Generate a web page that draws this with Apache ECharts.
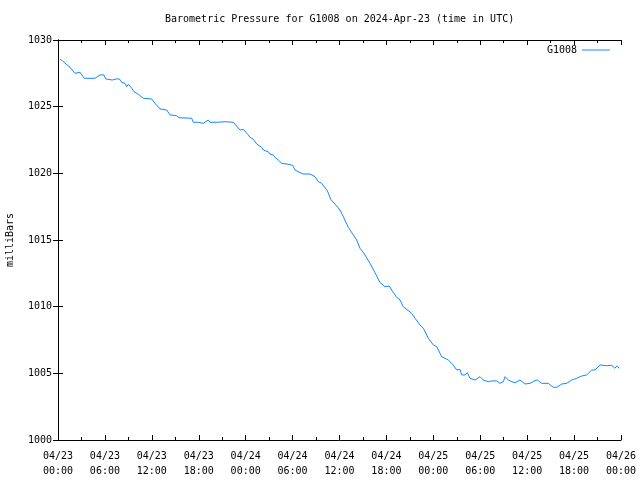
<!DOCTYPE html>
<html><head><meta charset="utf-8">
<script src="https://cdn.jsdelivr.net/npm/echarts@6/dist/echarts.min.js"></script>
<style>html,body{margin:0;padding:0;background:#fff}#c{width:640px;height:480px}</style>
</head><body><div id="c"></div>
<script>
// hours since 2024-04-23 00:00 UTC
const hours = [0.26,1.53,2.17,2.81,3.36,4.73,5.37,5.88,6.10,6.94,7.03,7.51,7.84,8.15,8.57,8.79,8.99,9.43,9.72,10.27,10.91,11.98,12.41,13.04,13.90,14.32,15.18,15.47,17.10,17.30,17.94,18.58,19.22,19.44,20.30,21.36,22.42,22.64,23.28,23.70,24.26,24.55,24.98,25.41,26.05,26.26,26.89,27.11,27.53,27.75,28.17,28.61,29.25,29.45,30.02,30.31,30.95,31.37,32.23,32.87,33.29,33.72,34.44,34.88,35.42,36.06,36.49,37.13,37.77,38.20,38.62,39.13,39.90,40.54,41.18,41.82,42.37,42.80,43.32,43.74,44.16,45.23,45.66,46.30,46.72,47.36,48.00,48.43,49.07,49.91,50.55,50.99,51.41,51.63,52.05,52.34,52.69,53.33,53.97,54.39,54.61,55.03,55.47,56.10,56.53,56.95,57.17,57.59,58.02,58.45,59.08,59.72,60.36,61.00,61.30,61.86,62.70,63.34,63.78,64.42,65.06,65.70,66.34,66.98,67.61,68.25,68.68,69.32,70.17,70.81,71.23,71.45,71.78];
const pressure = [1028.58,1027.95,1027.50,1027.58,1027.13,1027.13,1027.38,1027.38,1027.08,1027.00,1026.87,1027.08,1027.08,1026.83,1026.75,1026.50,1026.68,1026.38,1026.12,1025.93,1025.63,1025.58,1025.25,1024.83,1024.75,1024.38,1024.32,1024.17,1024.13,1023.83,1023.83,1023.75,1024.00,1023.83,1023.83,1023.87,1023.83,1023.68,1023.25,1023.30,1022.93,1022.70,1022.55,1022.20,1021.95,1021.75,1021.62,1021.45,1021.38,1021.20,1021.00,1020.75,1020.70,1020.55,1020.60,1020.25,1020.05,1019.95,1019.95,1019.75,1019.37,1019.25,1018.70,1018.05,1017.70,1017.25,1016.75,1015.95,1015.38,1015.00,1014.38,1014.00,1013.25,1012.55,1011.80,1011.50,1011.55,1011.12,1010.70,1010.50,1010.00,1009.50,1009.13,1008.63,1008.38,1007.63,1007.13,1007.00,1006.25,1006.00,1005.63,1005.25,1005.30,1004.88,1004.88,1005.05,1004.63,1004.50,1004.75,1004.50,1004.63,1004.37,1004.43,1004.43,1004.25,1004.37,1004.75,1004.50,1004.37,1004.30,1004.50,1004.20,1004.25,1004.45,1004.50,1004.25,1004.25,1003.95,1003.95,1004.20,1004.25,1004.50,1004.63,1004.80,1004.88,1005.25,1005.25,1005.63,1005.57,1005.60,1005.38,1005.55,1005.38];
const xTickLabels = ['04/23\n00:00','04/23\n06:00','04/23\n12:00','04/23\n18:00','04/24\n00:00','04/24\n06:00','04/24\n12:00','04/24\n18:00','04/25\n00:00','04/25\n06:00','04/25\n12:00','04/25\n18:00','04/26\n00:00'];
const yTicks = [1000,1005,1010,1015,1020,1025,1030];
const seriesName = 'G1008';
const titleText = 'Barometric Pressure for G1008 on 2024-Apr-23 (time in UTC)';
const yName = 'milliBars';

const font = 'DejaVu Sans Mono';
const fs = 10;
const data = hours.map((h, i) => [h, pressure[i]]);
const chart = echarts.init(document.getElementById('c'), null, {renderer: 'canvas'});
const axisLine = {show: true, lineStyle: {color: '#000', width: 1}};
chart.setOption({
  animation: false,
  backgroundColor: '#fff',
  title: {text: titleText, left: 160, top: 9, textStyle: {fontFamily: font, fontSize: fs, fontWeight: 'normal', color: '#000'}},
  legend: {data: [seriesName], right: 25, top: 40, align: 'right', icon: 'rect', itemWidth: 28, itemHeight: 1, itemGap: 7,
    textStyle: {fontFamily: font, fontSize: fs, color: '#000'}},
  grid: {left: 58, right: 19, top: 40, bottom: 40, containLabel: false, outerBoundsMode: 'none'},
  xAxis: [{
    type: 'value', min: 0, max: 72, interval: 6, position: 'bottom',
    axisLine: axisLine,
    axisTick: {show: true, inside: true, length: 5, lineStyle: {color: '#000'}},
    minorTick: {show: true, splitNumber: 2, length: 3, lineStyle: {color: '#000'}},
    splitLine: {show: false},
    axisLabel: {fontFamily: font, fontSize: fs, color: '#000', margin: 9, lineHeight: 15, hideOverlap: false,
      showMinLabel: true, showMaxLabel: true,
      formatter: v => xTickLabels[Math.round(v / 6)]}
  }, {
    type: 'value', min: 0, max: 72, interval: 6, position: 'top',
    axisLine: axisLine,
    axisTick: {show: true, inside: true, length: 5, lineStyle: {color: '#000'}},
    minorTick: {show: true, splitNumber: 2, length: 3, lineStyle: {color: '#000'}},
    splitLine: {show: false}, axisLabel: {show: false}
  }],
  yAxis: [{
    type: 'value', min: yTicks[0], max: yTicks[yTicks.length - 1], interval: 5, position: 'left',
    name: yName, nameLocation: 'middle', nameGap: 43, nameRotate: 90,
    nameTextStyle: {fontFamily: font, fontSize: fs, color: '#000'},
    axisLine: axisLine,
    axisTick: {show: true, inside: true, length: 5, lineStyle: {color: '#000'}},
    splitLine: {show: false},
    axisLabel: {fontFamily: font, fontSize: fs, color: '#000', margin: 6, formatter: v => String(v)}
  }, {
    type: 'value', min: yTicks[0], max: yTicks[yTicks.length - 1], interval: 5, position: 'right',
    axisLine: axisLine,
    axisTick: {show: true, inside: true, length: 5, lineStyle: {color: '#000'}},
    splitLine: {show: false}, axisLabel: {show: false}
  }],
  series: [{
    name: seriesName, type: 'line', data: data, xAxisIndex: 0, yAxisIndex: 0,
    showSymbol: false, symbol: 'none', lineStyle: {color: '#1188ff', width: 1}, itemStyle: {color: '#1188ff'}
  }]
});
</script></body></html>
